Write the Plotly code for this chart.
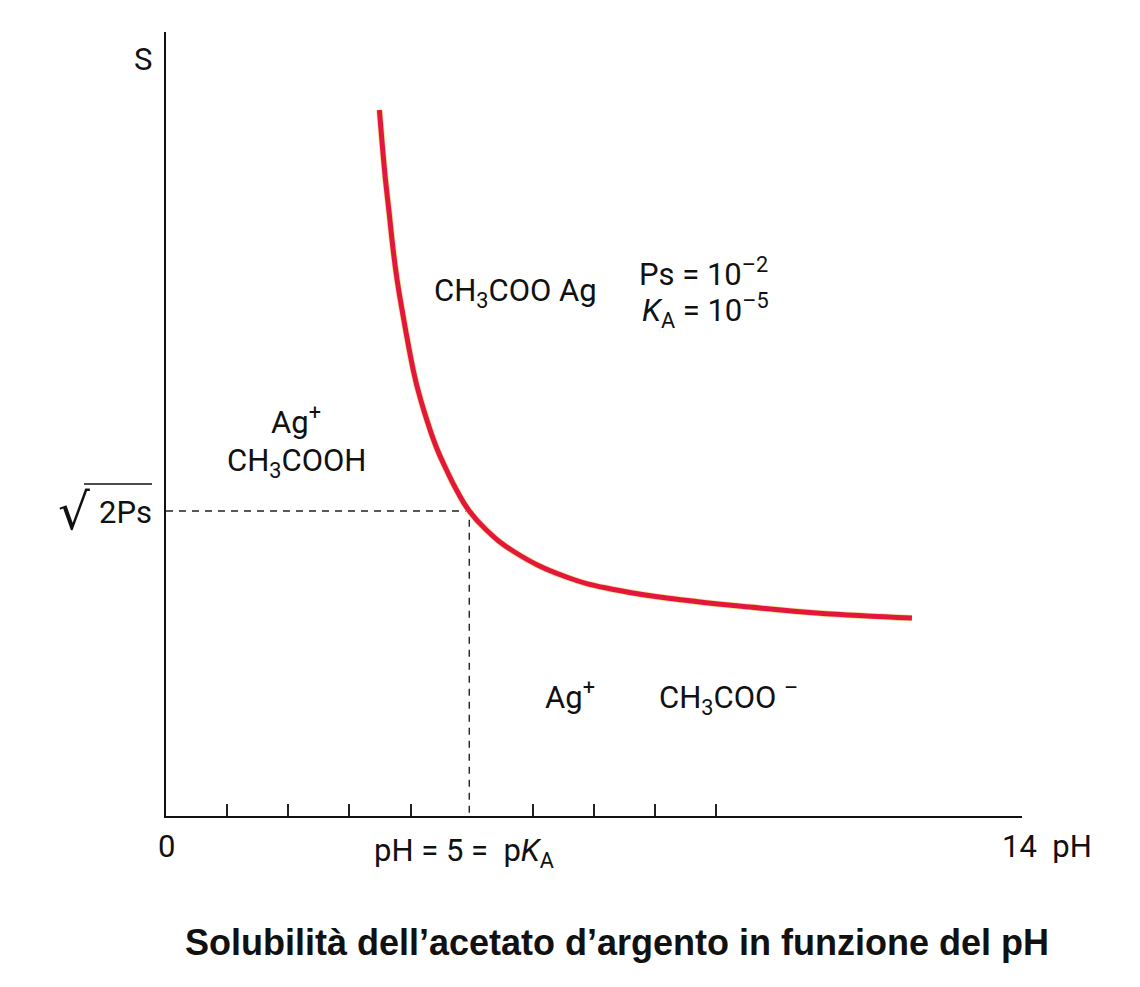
import plotly.graph_objects as go

# Data (S in arbitrary units)
ph = [3.49, 3.54, 3.59, 3.65, 3.71, 3.78, 3.87, 3.97, 4.08, 4.23, 4.42, 4.58, 4.76, 4.96,
      5.24, 5.70, 6.55, 7.37, 8.46, 9.55, 10.64, 12.20]
S = [7.06, 6.69, 6.36, 6.03, 5.69, 5.36, 5.03, 4.69, 4.36, 4.03, 3.69, 3.47, 3.25, 3.05,
     2.86, 2.64, 2.39, 2.26, 2.16, 2.09, 2.03, 1.98]
pKa = 4.96
S_pka = 3.05
tick_ph = [1, 2, 3, 4, 6, 7, 8, 9]
x_max = 14
y_max = 7.84

W, H = 1140, 987
OFF = 8  # page body margin
L, T = 166 - OFF, 32 - OFF
PW, PH_ = 856, 784
R = W - L - PW
B = H - T - PH_

def px(x):
    return (x - 166) / PW

def py(y):
    return (816 - y) / PH_

FONT = "Roboto, Liberation Sans, Arial"
fig = go.Figure()

# dashed guide lines at pK_A
fig.add_trace(go.Scatter(x=[0, pKa, pKa], y=[S_pka, S_pka, 0], mode="lines",
                         line=dict(color="#222222", width=1.4, dash="7px,6px"),
                         hoverinfo="skip", showlegend=False))
# curve (yellowish edge + red line)
fig.add_trace(go.Scatter(x=ph, y=S, mode="lines",
                         line=dict(color="#F3E08A", width=6.5, shape="spline", smoothing=1.3),
                         hoverinfo="skip", showlegend=False))
fig.add_trace(go.Scatter(x=ph, y=S, mode="lines",
                         line=dict(color="#E3173E", width=5, shape="spline", smoothing=1.3),
                         showlegend=False))

fig.update_xaxes(range=[0, x_max], showgrid=False, zeroline=False, showline=True,
                 linecolor="#111111", linewidth=2, tickvals=tick_ph, showticklabels=False,
                 ticks="inside", ticklen=12, tickwidth=1.5, tickcolor="#222222")
fig.update_yaxes(range=[0, y_max], showgrid=False, zeroline=False, showline=True,
                 linecolor="#111111", linewidth=2, showticklabels=False, ticks="")

ann = []
def add(text, x, y, size=31, xanchor="center", font=FONT):
    ann.append(dict(text=text, x=px(x), y=py(y), xref="paper", yref="paper", showarrow=False,
                    xanchor=xanchor, yanchor="middle",
                    font=dict(family=font, size=size, color="#111111")))

add("S", 143, 60)
add("√", 56, 512, size=50, xanchor="left", font="DejaVu Sans")
add("2Ps", 97, 513, xanchor="left")
add("0", 166, 846)
add("pH = 5 =  p<i>K</i><sub>A</sub>", 372, 852, xanchor="left")
add("14  pH", 1000, 846, xanchor="left")
add("CH<sub>3</sub>COO Ag", 432, 292, xanchor="left")
add("Ps = 10<sup>–2</sup>", 637, 272, xanchor="left")
add("<i>K</i><sub>A</sub> = 10<sup>–5</sup>", 640, 310, xanchor="left")
add("Ag<sup>+</sup>", 296, 420)
add("CH<sub>3</sub>COOH", 296, 462)
add("Ag<sup>+</sup>", 570, 695)
add("CH<sub>3</sub>COO <sup>–</sup>", 657, 697, xanchor="left")
ann.append(dict(text="<b>Solubilità dell’acetato d’argento in funzione del pH</b>",
                x=px(617), y=py(942), xref="paper", yref="paper", showarrow=False,
                xanchor="center", yanchor="middle",
                font=dict(family="Liberation Sans, Arial", size=36, color="#111111")))

shapes = [dict(type="line", xref="paper", yref="paper", x0=px(84), x1=px(152), y0=py(484), y1=py(484),
               line=dict(color="#111111", width=1.5))]

fig.update_layout(width=W, height=H, margin=dict(l=L, r=R, t=T, b=B),
                  plot_bgcolor="white", paper_bgcolor="white",
                  annotations=ann, shapes=shapes, showlegend=False)

fig.write_html("out.html")
